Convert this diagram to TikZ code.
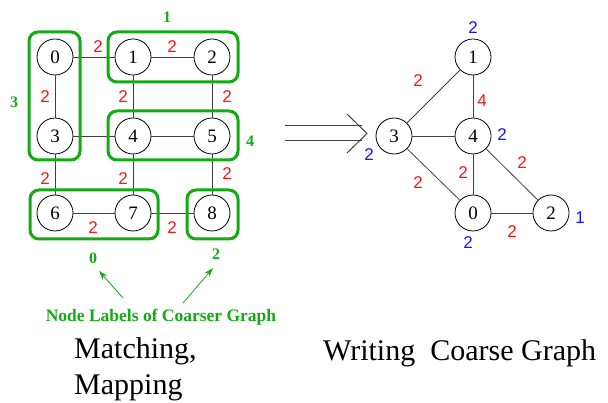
\documentclass[tikz,border=0pt]{standalone}
\usepackage{fontspec}
\setmainfont{Liberation Serif}
\newfontfamily\wtfont{Liberation Sans}
\usetikzlibrary{arrows.meta}
\definecolor{grp}{RGB}{20,170,20}
\definecolor{wred}{RGB}{255,20,20}
\definecolor{vblue}{RGB}{20,20,255}
\tikzset{vtx/.style={draw, circle, minimum size=36pt, inner sep=0pt,
  line width=0.8pt, font=\fontsize{19}{19}\selectfont}}
\tikzset{edg/.style={line width=0.8pt, draw=black!75}}
\tikzset{ewt/.style={text=wred, inner sep=0pt, font=\wtfont\fontsize{17}{17}\selectfont}}
\tikzset{vwt/.style={text=vblue, inner sep=0pt, font=\wtfont\fontsize{17}{17}\selectfont}}
\tikzset{grpbox/.style={draw=grp, line width=3pt, rounded corners=9pt}}
\tikzset{grplbl/.style={text=grp, inner sep=0pt, font=\bfseries\fontsize{16}{16}\selectfont}}
\tikzset{grparrow/.style={draw=grp, line width=0.8pt, -{Stealth[length=9pt,width=6pt]}}}
\tikzset{caption/.style={inner sep=0pt, anchor=base west, font=\fontsize{30}{36}\selectfont}}

\begin{document}
\begin{tikzpicture}[x=1pt, y=-1pt]
\useasboundingbox (0,0) rectangle (608,403);

% fine graph
\node[vtx] (f0) at (55,57) {0};
\node[vtx] (f1) at (133,57) {1};
\node[vtx] (f2) at (212,57) {2};
\node[vtx] (f3) at (55,136) {3};
\node[vtx] (f4) at (133,136) {4};
\node[vtx] (f5) at (212,136) {5};
\node[vtx] (f6) at (55,213) {6};
\node[vtx] (f7) at (133,213) {7};
\node[vtx] (f8) at (212,213) {8};

\draw[edg] (f0) -- (f1);
\draw[edg] (f1) -- (f2);
\draw[edg] (f0) -- (f3);
\draw[edg] (f1) -- (f4);
\draw[edg] (f2) -- (f5);
\draw[edg] (f3) -- (f4);
\draw[edg] (f4) -- (f5);
\draw[edg] (f3) -- (f6);
\draw[edg] (f4) -- (f7);
\draw[edg] (f5) -- (f8);
\draw[edg] (f6) -- (f7);
\draw[edg] (f7) -- (f8);

\node[ewt] (w01) at (98,47) {2};
\node[ewt] (w12) at (172,47) {2};
\node[ewt] (w03) at (45,97) {2};
\node[ewt] (w14) at (123,97) {2};
\node[ewt] (w25) at (227,97) {2};
\node[ewt] (w36) at (45,179) {2};
\node[ewt] (w47) at (123,179) {2};
\node[ewt] (w58) at (227,174) {2};
\node[ewt] (w67) at (93,228) {2};
\node[ewt] (w78) at (172,228) {2};

% matching
\draw[grpbox] (29,32) rectangle (80,160);
\draw[grpbox] (108,32) rectangle (238,82);
\draw[grpbox] (108,111) rectangle (238,160);
\draw[grpbox] (30,190) rectangle (158,239);
\draw[grpbox] (187,190) rectangle (238,239);

\node[grplbl] (g1) at (167,17) {1};
\node[grplbl] (g3) at (14,102) {3};
\node[grplbl] (g4) at (250,141) {4};
\node[grplbl] (g0) at (93,258) {0};
\node[grplbl] (g2) at (216,254) {2};

\node[grplbl, font=\bfseries\fontsize{17.5}{17.5}\selectfont] (note) at (161,317) {Node Labels of Coarser Graph};
\coordinate (s0) at (123,298);
\coordinate (t0) at (99,271);
\coordinate (s2) at (183,303);
\coordinate (t2) at (213,268);
\draw[grparrow] (s0) -- (t0);
\draw[grparrow] (s2) -- (t2);

% big arrow
\coordinate (ua) at (285,126);
\coordinate (ub) at (362,126);
\coordinate (la) at (285,141);
\coordinate (lb) at (362,141);
\coordinate (ha) at (347,114);
\coordinate (hb) at (367,133.5);
\coordinate (hc) at (347,153);
\draw[edg, line width=1pt] (ua) -- (ub);
\draw[edg, line width=1pt] (la) -- (lb);
\draw[edg, line width=1pt] (ha) -- (hb) -- (hc);

% coarse graph
\node[vtx] (c1) at (473,57) {1};
\node[vtx] (c3) at (394,136) {3};
\node[vtx] (c4) at (473,136) {4};
\node[vtx] (c0) at (473,213) {0};
\node[vtx] (c2) at (551,213) {2};

\draw[edg] (c1) -- (c3);
\draw[edg] (c1) -- (c4);
\draw[edg] (c3) -- (c4);
\draw[edg] (c3) -- (c0);
\draw[edg] (c4) -- (c0);
\draw[edg] (c4) -- (c2);
\draw[edg] (c0) -- (c2);

\node[ewt] (v13) at (418,81) {2};
\node[ewt] (v14) at (482,101) {4};
\node[ewt] (v42) at (522,163) {2};
\node[ewt] (v40) at (463,173) {2};
\node[ewt] (v30) at (418,183) {2};
\node[ewt] (v02) at (512,232) {2};

\node[vwt] (n1) at (473,28) {2};
\node[vwt] (n4) at (502,135) {2};
\node[vwt] (n3) at (369,155) {2};
\node[vwt] (n0) at (468,243) {2};
\node[vwt] (n2) at (580,218) {1};

% captions
\node[caption] (cap1) at (74,359) {Matching,};
\node[caption] (cap2) at (74,395) {Mapping};
\node[caption] (cap3) at (323,360) {Writing~ Coarse Graph};
\end{tikzpicture}
\end{document}
